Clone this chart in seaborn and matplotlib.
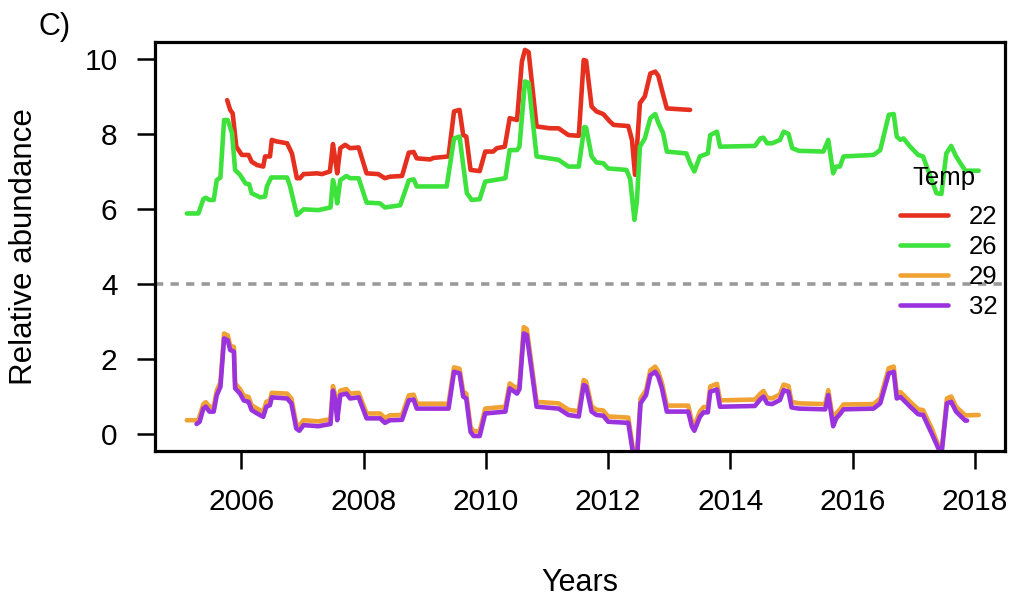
import numpy as np
import pandas as pd
import matplotlib
matplotlib.use("Agg")
import matplotlib.pyplot as plt
import seaborn as sns

# ---------------- data ----------------
x22 = [2005.77, 2005.82, 2005.86, 2005.92, 2006.01, 2006.12, 2006.17, 2006.26, 2006.36, 2006.39,
       2006.47, 2006.50, 2006.58, 2006.75, 2006.83, 2006.91, 2006.96, 2007.02, 2007.24, 2007.32,
       2007.45, 2007.50, 2007.53, 2007.57, 2007.62, 2007.70, 2007.78, 2007.92, 2008.05, 2008.24,
       2008.35, 2008.43, 2008.63, 2008.74, 2008.82, 2008.87, 2009.09, 2009.14, 2009.39, 2009.48,
       2009.57, 2009.63, 2009.68, 2009.75, 2009.90, 2009.99, 2010.12, 2010.18, 2010.31, 2010.39,
       2010.51, 2010.59, 2010.64, 2010.70, 2010.83, 2011.05, 2011.19, 2011.35, 2011.52, 2011.60,
       2011.64, 2011.73, 2011.81, 2011.92, 2012.03, 2012.09, 2012.33, 2012.39, 2012.44, 2012.52,
       2012.60, 2012.69, 2012.77, 2012.82, 2012.88, 2012.96, 2013.34]
y22 = [8.90, 8.64, 8.55, 7.66, 7.44, 7.44, 7.26, 7.17, 7.13, 7.40,
       7.40, 7.84, 7.80, 7.75, 7.48, 6.82, 6.82, 6.93, 6.95, 6.93,
       7.00, 7.73, 7.40, 6.95, 7.62, 7.71, 7.62, 7.64, 6.95, 6.93,
       6.82, 6.86, 6.88, 7.50, 7.52, 7.35, 7.32, 7.36, 7.40, 8.60,
       8.64, 7.97, 7.93, 7.04, 7.01, 7.53, 7.53, 7.62, 7.66, 8.42,
       8.37, 9.93, 10.24, 10.18, 8.20, 8.15, 8.15, 7.97, 7.95, 9.97,
       9.95, 8.73, 8.60, 8.53, 8.33, 8.24, 8.21, 7.84, 6.91, 8.82,
       9.00, 9.61, 9.66, 9.55, 9.17, 8.68, 8.64]

x26 = [2005.11, 2005.30, 2005.38, 2005.42, 2005.48, 2005.55, 2005.60, 2005.66, 2005.72, 2005.78,
       2005.85, 2005.90, 2005.98, 2006.07, 2006.13, 2006.17, 2006.31, 2006.39, 2006.42, 2006.49,
       2006.75, 2006.80, 2006.91, 2007.02, 2007.26, 2007.46, 2007.50, 2007.54, 2007.57, 2007.62,
       2007.72, 2007.78, 2007.92, 2008.05, 2008.27, 2008.35, 2008.60, 2008.74, 2008.82, 2008.87,
       2009.36, 2009.48, 2009.57, 2009.69, 2009.77, 2009.90, 2009.99, 2010.32, 2010.39, 2010.51,
       2010.55, 2010.64, 2010.70, 2010.83, 2011.19, 2011.35, 2011.52, 2011.61, 2011.64, 2011.73,
       2011.81, 2011.92, 2012.00, 2012.30, 2012.36, 2012.43, 2012.47, 2012.52, 2012.60, 2012.69,
       2012.77, 2012.82, 2012.90, 2012.96, 2013.28, 2013.34, 2013.41, 2013.50, 2013.63, 2013.67,
       2013.78, 2013.83, 2014.40, 2014.49, 2014.54, 2014.60, 2014.68, 2014.81, 2014.87, 2014.95,
       2015.01, 2015.12, 2015.52, 2015.60, 2015.68, 2015.73, 2015.79, 2015.85, 2016.34, 2016.45,
       2016.59, 2016.67, 2016.72, 2016.78, 2016.83, 2016.94, 2017.07, 2017.15, 2017.29, 2017.37,
       2017.45, 2017.53, 2017.61, 2017.69, 2017.84, 2018.06]
y26 = [5.88, 5.88, 6.26, 6.30, 6.24, 6.24, 6.77, 6.84, 8.37, 8.37,
       8.02, 7.04, 6.91, 6.68, 6.66, 6.42, 6.31, 6.33, 6.60, 6.84,
       6.84, 6.60, 5.84, 5.99, 5.97, 6.04, 6.77, 6.51, 6.15, 6.77,
       6.88, 6.82, 6.82, 6.17, 6.15, 6.04, 6.10, 6.76, 6.79, 6.60,
       6.60, 7.88, 7.93, 6.42, 6.24, 6.26, 6.73, 6.82, 7.57, 7.57,
       7.66, 9.40, 9.36, 7.40, 7.31, 7.13, 7.13, 8.18, 8.17, 7.40,
       7.24, 7.22, 7.08, 7.04, 6.80, 5.71, 6.20, 7.66, 7.88, 8.42,
       8.53, 8.30, 8.02, 7.53, 7.48, 7.22, 7.00, 7.40, 7.48, 7.97,
       8.06, 7.66, 7.68, 7.88, 7.90, 7.75, 7.75, 7.84, 8.06, 8.00,
       7.62, 7.55, 7.53, 7.84, 6.95, 7.13, 7.13, 7.40, 7.44, 7.57,
       8.51, 8.53, 7.93, 7.84, 7.88, 7.66, 7.44, 7.40, 6.77, 6.42,
       6.40, 7.48, 7.68, 7.40, 7.02, 7.02]

x29 = [2005.11, 2005.30, 2005.38, 2005.42, 2005.48, 2005.55, 2005.60, 2005.66, 2005.72, 2005.78,
       2005.82, 2005.88, 2005.90, 2005.98, 2006.04, 2006.12, 2006.17, 2006.26, 2006.36, 2006.41,
       2006.47, 2006.50, 2006.75, 2006.82, 2006.90, 2006.95, 2007.02, 2007.26, 2007.46, 2007.50,
       2007.54, 2007.57, 2007.62, 2007.72, 2007.78, 2007.92, 2008.05, 2008.27, 2008.35, 2008.43,
       2008.63, 2008.74, 2008.82, 2008.87, 2009.39, 2009.48, 2009.57, 2009.63, 2009.68, 2009.75,
       2009.80, 2009.90, 2009.99, 2010.32, 2010.39, 2010.51, 2010.55, 2010.62, 2010.67, 2010.83,
       2011.19, 2011.35, 2011.52, 2011.60, 2011.64, 2011.73, 2011.81, 2011.92, 2012.00, 2012.33,
       2012.39, 2012.43, 2012.47, 2012.53, 2012.62, 2012.69, 2012.77, 2012.82, 2012.88, 2012.96,
       2013.31, 2013.37, 2013.41, 2013.50, 2013.56, 2013.63, 2013.67, 2013.78, 2013.83, 2014.40,
       2014.49, 2014.54, 2014.60, 2014.68, 2014.81, 2014.87, 2014.95, 2015.00, 2015.12, 2015.55,
       2015.60, 2015.68, 2015.73, 2015.79, 2015.85, 2016.34, 2016.45, 2016.59, 2016.67, 2016.72,
       2016.78, 2016.83, 2016.94, 2017.07, 2017.15, 2017.29, 2017.40, 2017.45, 2017.54, 2017.61,
       2017.69, 2017.84, 2018.06]
y29 = [0.37, 0.37, 0.80, 0.85, 0.73, 0.73, 1.16, 1.38, 2.68, 2.63,
       2.36, 2.32, 1.35, 1.20, 1.03, 0.99, 0.77, 0.68, 0.59, 0.86,
       0.90, 1.10, 1.08, 0.95, 0.28, 0.22, 0.37, 0.34, 0.40, 1.28,
       1.02, 0.50, 1.16, 1.20, 1.08, 1.10, 0.55, 0.55, 0.43, 0.50,
       0.51, 1.03, 1.05, 0.81, 0.81, 1.78, 1.74, 1.13, 1.08, 0.19,
       0.08, 0.08, 0.68, 0.73, 1.35, 1.21, 1.33, 2.85, 2.80, 0.86,
       0.82, 0.65, 0.61, 1.44, 1.40, 0.74, 0.65, 0.63, 0.47, 0.44,
       -0.22, -0.62, -0.62, 0.95, 1.17, 1.70, 1.80, 1.67, 1.36, 0.76,
       0.76, 0.34, 0.22, 0.60, 0.72, 0.72, 1.27, 1.34, 0.90, 0.92,
       1.08, 1.15, 0.97, 0.95, 1.06, 1.32, 1.28, 0.86, 0.82, 0.80,
       1.17, 0.35, 0.55, 0.66, 0.79, 0.80, 0.95, 1.76, 1.80, 1.09,
       1.12, 1.04, 0.86, 0.66, 0.64, 0.16, -0.30, -0.50, 0.95, 1.00,
       0.73, 0.50, 0.51]

x32 = [2005.27, 2005.32, 2005.38, 2005.42, 2005.48, 2005.55, 2005.60, 2005.66, 2005.72, 2005.78,
       2005.82, 2005.88, 2005.90, 2005.98, 2006.04, 2006.12, 2006.17, 2006.26, 2006.36, 2006.41,
       2006.47, 2006.50, 2006.75, 2006.82, 2006.90, 2006.95, 2007.02, 2007.26, 2007.46, 2007.50,
       2007.54, 2007.57, 2007.62, 2007.72, 2007.78, 2007.92, 2008.05, 2008.27, 2008.35, 2008.43,
       2008.63, 2008.74, 2008.82, 2008.87, 2009.39, 2009.48, 2009.57, 2009.63, 2009.68, 2009.75,
       2009.80, 2009.90, 2009.99, 2010.32, 2010.39, 2010.51, 2010.55, 2010.62, 2010.67, 2010.83,
       2011.19, 2011.35, 2011.52, 2011.60, 2011.64, 2011.73, 2011.81, 2011.92, 2012.00, 2012.33,
       2012.39, 2012.43, 2012.47, 2012.53, 2012.62, 2012.69, 2012.77, 2012.82, 2012.88, 2012.96,
       2013.31, 2013.37, 2013.41, 2013.50, 2013.56, 2013.63, 2013.67, 2013.78, 2013.83, 2014.40,
       2014.49, 2014.54, 2014.60, 2014.68, 2014.81, 2014.87, 2014.95, 2015.00, 2015.12, 2015.55,
       2015.60, 2015.68, 2015.73, 2015.79, 2015.85, 2016.34, 2016.45, 2016.59, 2016.67, 2016.72,
       2016.78, 2016.83, 2016.94, 2017.07, 2017.15, 2017.29, 2017.40, 2017.45, 2017.54, 2017.61,
       2017.69, 2017.84, 2017.87]
y32 = [0.27, 0.33, 0.68, 0.73, 0.60, 0.60, 1.04, 1.26, 2.55, 2.50,
       2.24, 2.20, 1.22, 1.08, 0.90, 0.86, 0.64, 0.55, 0.46, 0.73,
       0.77, 0.98, 0.95, 0.82, 0.15, 0.09, 0.24, 0.21, 0.27, 1.16,
       0.90, 0.37, 1.04, 1.08, 0.95, 0.98, 0.42, 0.42, 0.30, 0.37,
       0.38, 0.90, 0.92, 0.68, 0.68, 1.66, 1.62, 1.00, 0.95, 0.06,
       -0.05, -0.05, 0.55, 0.60, 1.22, 1.08, 1.20, 2.68, 2.64, 0.73,
       0.68, 0.51, 0.47, 1.31, 1.27, 0.60, 0.51, 0.49, 0.33, 0.30,
       -0.34, -0.70, -0.70, 0.82, 1.04, 1.57, 1.66, 1.53, 1.22, 0.60,
       0.60, 0.20, 0.09, 0.46, 0.58, 0.58, 1.13, 1.19, 0.73, 0.75,
       0.93, 1.00, 0.82, 0.80, 0.91, 1.17, 1.13, 0.71, 0.68, 0.66,
       1.04, 0.21, 0.42, 0.53, 0.66, 0.68, 0.82, 1.62, 1.66, 0.95,
       0.99, 0.91, 0.73, 0.53, 0.51, 0.02, -0.38, -0.55, 0.82, 0.86,
       0.60, 0.36, 0.36]

temps = ["22", "26", "29", "32"]
colors = ["#E5301F", "#3DE23D", "#F0A233", "#9A33DE"]
x_ticks = [2006, 2008, 2010, 2012, 2014, 2016, 2018]
y_ticks = [0, 2, 4, 6, 8, 10]
ref_line = 4
panel_label = "C)"
x_label = "Years"
y_label = "Relative abundance"
legend_title = "Temp"

frames = []
for t, xs, ys in zip(temps, [x22, x26, x29, x32], [y22, y26, y29, y32]):
    frames.append(pd.DataFrame({"Year": xs, "Abundance": ys, "Temp": t}))
df = pd.concat(frames, ignore_index=True)

# ---------------- style ----------------
sns.set_style("white")
plt.rcParams["font.family"] = ["Liberation Sans", "DejaVu Sans"]
plt.rcParams["text.color"] = "black"
plt.rcParams["axes.labelcolor"] = "black"

fig = plt.figure(figsize=(10.18, 6.01), dpi=100)
ax = fig.add_axes([155 / 1018, 1 - 451 / 601, 850 / 1018, 409 / 601])

sns.lineplot(data=df, x="Year", y="Abundance", hue="Temp", hue_order=temps,
             palette=dict(zip(temps, colors)), estimator=None, sort=False,
             linewidth=3.3, ax=ax, legend=True)

ax.axhline(ref_line, color="#9a9a9a", linewidth=2.6, linestyle=(0, (2.3, 2.0)), zorder=0.5)

ax.set_xlim(2004.59, 2018.49)
ax.set_ylim(-0.45, 10.45)
ax.set_xticks(x_ticks)
ax.set_yticks(y_ticks)
ax.set_xticklabels([str(v) for v in x_ticks])
ax.set_yticklabels([str(v) for v in y_ticks])

for s in ax.spines.values():
    s.set_visible(True)
    s.set_linewidth(2.3)
    s.set_color("black")

ax.tick_params(axis="x", bottom=True, direction="out", length=13, width=1.8, pad=14,
               labelsize=21.5, colors="black")
ax.tick_params(axis="y", left=True, direction="out", length=13, width=1.8, pad=14,
               labelsize=21.5, colors="black")

ax.set_xlabel(x_label, fontsize=22, color="black")
ax.xaxis.set_label_coords(0.5, -0.285)
ax.set_ylabel(y_label, fontsize=22.5, color="black")
ax.yaxis.set_label_coords(-0.137, 0.5)

handles, labels = ax.get_legend_handles_labels()
leg = ax.legend(handles, labels, loc="upper left",
                bbox_to_anchor=(0.877, 0.602), frameon=False, fontsize=18.5,
                handlelength=1.87, handletextpad=0.8,
                labelspacing=0.23, borderpad=0, borderaxespad=0,
                labelcolor="black")
for line in leg.get_lines():
    line.set_linewidth(3.3)
ax.text(0.928, 0.667, legend_title, transform=ax.transAxes, fontsize=18.5,
        ha="center", va="center", color="black")

fig.text(38 / 1018, 1 - 12 / 601, panel_label, fontsize=22, va="top", ha="left", color="black")

fig.savefig("out.png", dpi=100)
